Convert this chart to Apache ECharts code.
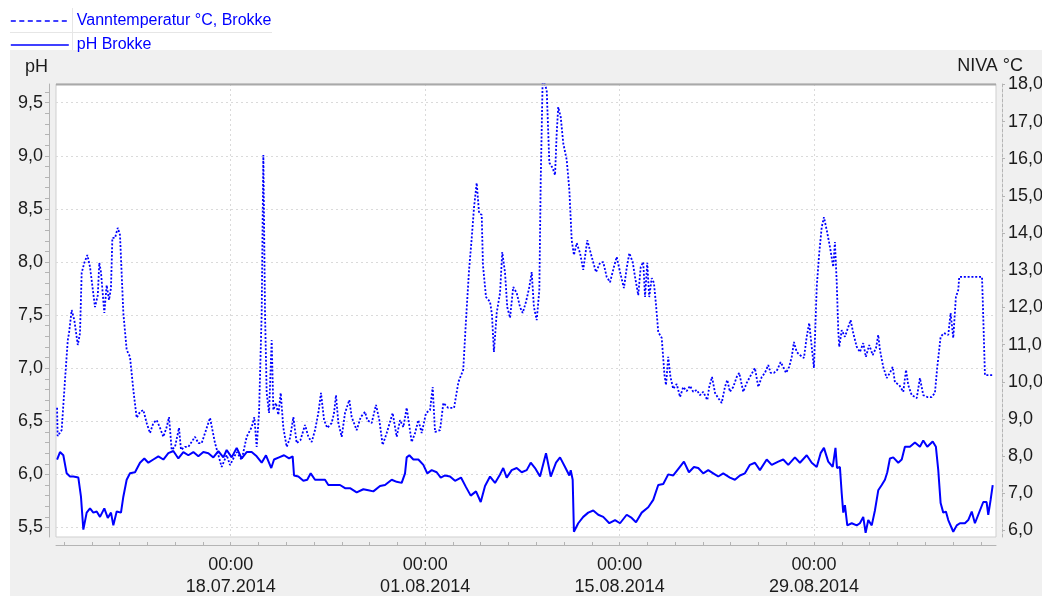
<!DOCTYPE html>
<html>
<head>
<meta charset="utf-8">
<script src="https://cdn.jsdelivr.net/npm/echarts@6/dist/echarts.min.js"></script>
<style>
  html, body { margin: 0; padding: 0; background: #ffffff; overflow: hidden; }
  #panel { position: absolute; left: 10px; top: 50px; width: 1032px; height: 546px; background: #f0f0f0; }
  #chart { position: absolute; left: 0; top: 0; width: 1042px; height: 596px; }
</style>
</head>
<body>
<div id="panel"></div>
<div id="chart"></div>
<script>
// ---- Data (time given as days relative to 18.07.2014 00:00) ----
const tempDays = [
-12.50,-12.46,-12.17,-11.93,-11.73,-11.64,-11.45,-11.26,-11.01,-10.85,
-10.73,-10.54,-10.32,-10.13,-9.77,-9.57,-9.46,-9.34,-9.10,-8.93,
-8.76,-8.62,-8.52,-8.33,-8.13,-7.97,-7.73,-7.49,-7.25,-7.01,
-6.77,-6.53,-6.29,-6.05,-5.81,-5.57,-5.33,-5.09,-4.85,-4.61,
-4.44,-4.25,-4.01,-3.72,-3.58,-3.29,-3.05,-2.57,-2.33,-2.09,
-1.85,-1.49,-1.13,-0.65,-0.29,-0.05,0.43,0.79,1.15,1.51,
1.70,1.87,2.04,2.23,2.35,2.47,2.59,2.76,2.95,3.07,
3.26,3.43,3.60,3.79,4.03,4.27,4.51,4.75,5.02,5.35,
5.59,5.83,6.07,6.31,6.50,6.72,6.95,7.27,7.44,7.58,
7.75,7.99,8.23,8.54,8.71,9.07,9.36,9.67,9.83,10.15,
10.46,10.70,10.94,11.23,11.66,11.95,12.19,12.43,12.67,13.03,
13.27,13.51,13.75,14.06,14.35,14.54,14.71,15.07,15.31,15.66,
16.08,16.39,16.74,16.94,17.16,17.34,17.52,17.71,17.88,18.07,
18.16,18.38,18.67,18.81,18.95,19.15,19.39,19.55,19.75,19.91,
20.11,20.34,20.59,20.83,21.02,21.26,21.50,21.67,21.83,22.03,
22.22,22.32,22.46,22.75,22.94,23.18,23.35,23.47,23.58,23.76,
23.94,24.19,24.38,24.55,24.71,24.91,25.15,25.38,25.67,25.99,
26.30,26.59,26.82,27.07,27.31,27.59,27.79,28.03,28.31,28.51,
28.70,28.94,29.11,29.34,29.52,29.70,29.83,29.99,30.13,30.31,
30.47,30.62,30.78,31.03,31.23,31.34,31.50,31.66,31.86,32.11,
32.35,32.58,32.83,33.07,33.30,33.55,33.79,34.02,34.31,34.45,
34.65,34.87,35.10,35.35,35.58,35.75,35.94,36.18,36.43,36.61,
36.90,37.15,37.38,37.74,37.98,38.23,38.46,38.70,38.87,39.11,
39.35,39.59,39.78,39.98,40.21,40.39,40.55,40.75,40.98,41.27,
41.47,41.65,41.83,41.99,42.19,42.37,42.55,42.71,42.91,43.14,
43.38,43.50,43.63,43.74,43.81,43.99,44.22,44.46,44.63,44.82,
45.07,45.30,45.54,45.73,45.97,46.22,46.46,46.62,46.74,46.98,
47.23,47.46,47.66,47.82,48.13,48.42,48.62,48.78,49.03,49.39,
49.62,49.86,50.15,50.46,50.70,50.87,51.11,51.35,51.66,51.83,
52.02,52.21,52.38,52.45,54.09,54.18,54.30,54.88
];
const tempValues = [
9.30,8.54,8.70,10.05,11.12,11.31,11.93,11.66,10.99,11.31,
12.93,13.20,13.41,13.09,12.01,12.33,13.20,12.95,11.85,12.60,
12.20,12.52,13.87,13.87,14.14,13.95,11.85,10.86,10.67,9.78,
9.03,9.19,9.24,8.89,8.62,8.89,8.97,8.76,8.52,8.78,
9.05,8.17,8.25,8.76,8.17,8.25,8.25,8.52,8.35,8.35,
8.62,9.03,8.35,7.71,8.03,7.76,8.11,7.90,8.52,8.78,
9.05,8.25,9.16,11.85,16.10,11.85,9.70,9.16,11.12,9.24,
9.43,9.11,9.70,8.76,8.25,8.49,9.05,8.35,8.43,8.84,
8.52,8.38,8.70,9.16,9.70,8.97,8.76,8.89,9.16,9.64,
8.89,8.52,9.16,9.51,9.05,8.70,9.05,9.19,8.97,8.89,
9.38,8.97,8.30,8.62,9.16,8.52,8.97,8.78,9.30,8.38,
8.62,8.97,8.62,9.16,9.24,9.86,8.65,8.70,9.43,9.30,
9.30,9.99,10.32,11.66,13.01,13.81,14.70,15.35,14.54,14.49,
13.14,12.28,12.15,11.80,10.80,11.85,12.39,13.49,12.93,12.01,
11.72,12.55,12.39,12.01,11.85,12.15,12.55,12.95,12.01,11.66,
12.47,15.43,18.15,17.85,15.89,15.75,15.56,16.69,17.39,17.12,
16.42,15.97,15.16,13.81,13.41,13.73,13.46,13.01,13.81,13.36,
12.95,13.20,13.22,12.82,12.68,13.09,13.36,12.95,12.52,13.06,
13.46,13.22,12.82,12.33,13.09,13.22,12.28,13.20,12.28,12.79,
12.66,12.07,11.34,11.18,10.18,9.91,10.67,10.13,9.81,9.94,
9.59,9.86,9.75,9.89,9.73,9.78,9.64,9.73,9.51,9.86,
10.13,9.70,9.56,9.43,9.86,10.05,9.73,9.86,10.13,10.24,
9.73,9.97,10.13,10.37,9.86,10.13,10.24,10.45,10.24,10.24,
10.32,10.53,10.40,10.24,10.40,10.67,11.07,10.80,10.72,10.64,
11.21,11.58,10.94,10.37,12.55,13.46,14.16,14.43,14.08,13.63,
13.09,13.76,12.68,11.39,10.94,11.39,11.21,11.47,11.66,11.31,
10.94,10.80,11.04,10.67,10.99,10.72,10.91,11.26,10.86,10.40,
10.10,10.24,10.40,9.99,9.91,9.73,10.32,9.91,9.64,9.56,
10.10,9.64,9.59,9.59,9.70,10.40,11.21,11.31,11.26,11.85,
11.18,12.28,12.47,12.82,12.82,11.74,10.18,10.18
];
const phDays = [
-12.50,-12.29,-12.05,-11.81,-11.57,-11.33,-10.97,-10.78,-10.61,-10.37,
-10.13,-9.89,-9.65,-9.41,-9.10,-8.85,-8.62,-8.45,-8.21,-7.90,
-7.73,-7.49,-7.25,-6.89,-6.53,-6.22,-5.93,-5.57,-5.21,-4.85,
-4.49,-4.13,-3.77,-3.41,-3.05,-2.69,-2.33,-1.97,-1.61,-1.25,
-0.89,-0.53,-0.29,0.07,0.43,0.79,1.15,1.51,1.87,2.23,
2.54,2.92,3.12,3.48,3.84,4.20,4.46,4.56,4.87,5.23,
5.51,5.76,6.07,6.43,6.79,7.03,7.39,7.87,8.23,8.59,
9.07,9.55,9.91,10.27,10.75,11.11,11.59,11.95,12.31,12.55,
12.67,12.86,13.15,13.51,13.87,14.15,14.47,14.83,15.12,15.43,
15.79,16.15,16.58,16.94,17.28,17.66,18.00,18.31,18.67,19.03,
19.39,19.62,19.87,20.23,20.59,20.95,21.31,21.60,21.91,22.27,
22.70,23.04,23.42,23.71,24.07,24.38,24.48,24.62,24.71,25.02,
25.38,25.74,26.10,26.46,26.82,27.26,27.67,28.03,28.51,28.87,
29.18,29.59,30.06,30.42,30.78,31.14,31.50,31.86,32.27,32.63,
32.99,33.35,33.66,34.02,34.38,34.74,35.10,35.46,35.94,36.30,
36.66,37.02,37.38,37.74,38.10,38.59,38.95,39.42,39.78,40.14,
40.62,40.98,41.47,41.83,42.19,42.47,42.71,43.02,43.34,43.54,
43.65,43.86,43.99,44.10,44.22,44.39,44.71,45.07,45.30,45.54,
45.71,45.90,46.15,46.38,46.62,46.87,47.10,47.27,47.46,47.70,
48.06,48.31,48.54,48.90,49.26,49.62,49.86,50.15,50.54,50.77,
50.94,51.11,51.30,51.49,51.66,52.02,52.27,52.50,52.86,53.10,
53.35,53.58,53.82,54.18,54.42,54.54,54.71,54.86
];
const phValues = [
6.14,6.21,6.18,6.01,5.98,5.98,5.97,5.79,5.48,5.64,
5.68,5.64,5.65,5.60,5.68,5.59,5.64,5.52,5.65,5.64,
5.79,5.95,6.01,6.02,6.11,6.15,6.11,6.14,6.17,6.14,
6.20,6.22,6.15,6.21,6.18,6.21,6.17,6.21,6.20,6.16,
6.22,6.16,6.23,6.16,6.25,6.15,6.21,6.21,6.17,6.11,
6.18,6.06,6.14,6.16,6.18,6.15,6.17,5.99,5.98,5.94,
5.95,6.01,5.95,5.95,5.95,5.90,5.90,5.90,5.87,5.87,
5.83,5.86,5.85,5.84,5.89,5.90,5.95,5.93,5.92,6.01,
6.16,6.18,6.14,6.14,6.09,6.01,6.04,6.02,5.97,5.99,
5.98,5.94,5.97,5.88,5.80,5.84,5.74,5.89,5.98,5.92,
6.00,6.06,5.97,6.04,6.06,6.02,6.04,6.11,6.06,5.98,
6.20,5.98,6.11,6.16,6.07,5.99,6.04,5.95,5.46,5.54,
5.60,5.64,5.66,5.62,5.60,5.54,5.57,5.54,5.62,5.59,
5.55,5.64,5.69,5.76,5.90,5.91,6.00,5.99,6.06,6.12,
6.02,6.07,6.06,6.01,6.04,6.01,5.98,6.01,5.97,5.95,
5.99,6.01,6.09,6.11,6.04,6.14,6.09,6.12,6.14,6.09,
6.16,6.11,6.18,6.11,6.07,6.20,6.25,6.12,6.07,6.25,
6.06,6.07,5.82,5.64,5.71,5.52,5.54,5.52,5.54,5.60,
5.45,5.57,5.52,5.66,5.85,5.90,5.95,6.02,6.15,6.16,
6.11,6.14,6.26,6.26,6.30,6.26,6.32,6.26,6.31,6.26,
6.04,5.73,5.64,5.65,5.57,5.46,5.52,5.54,5.54,5.57,
5.65,5.54,5.62,5.74,5.74,5.62,5.76,5.90
];
const dateTickDays = [0, 14, 28, 42];           // labelled dates (00:00)
const minorTickDays = [-12,-10,-8,-6,-4,-2,0,2,4,6,8,10,12,14,16,18,20,22,24,26,28,30,32,34,36,38,40,42,44,46,48,50,52,54];
const phTicks = [5.5, 6.0, 6.5, 7.0, 7.5, 8.0, 8.5, 9.0, 9.5];
const phMinorTicks = [5.5,5.6,5.7,5.8,5.9,6.0,6.1,6.2,6.3,6.4,6.5,6.6,6.7,6.8,6.9,7.0,7.1,7.2,7.3,7.4,7.5,7.6,7.7,7.8,7.9,8.0,8.1,8.2,8.3,8.4,8.5,8.6,8.7,8.8,8.9,9.0,9.1,9.2,9.3,9.4,9.5,9.6];
const tempTicks = [6, 7, 8, 9, 10, 11, 12, 13, 14, 15, 16, 17, 18];
const seriesNames = ['Vanntemperatur °C, Brokke', 'pH Brokke'];

// ---- Build ----
const BASE = Date.UTC(2014, 6, 18);
const pad = n => (n < 10 ? '0' : '') + n;
const commaFmt = v => Number(v).toFixed(1).replace('.', ',');
const dayFmt = v => {
  const t = new Date(BASE + Math.round(v * 24) * 3600000);
  return pad(t.getUTCHours()) + ':' + pad(t.getUTCMinutes()) + '\n' +
         pad(t.getUTCDate()) + '.' + pad(t.getUTCMonth() + 1) + '.' + t.getUTCFullYear();
};
const FONT = 'Liberation Sans, Arial, sans-serif';
const TXT = '#1b1b1b';
const BLUE = '#0000ff';
const AXC = '#b4b4b4';

const tempData = tempDays.map((d, i) => [d, tempValues[i]]);
const phData = phDays.map((d, i) => [d, phValues[i]]);

const xMin = -12.578, xMax = 55.097;
const phMin = 5.4105, phMax = 9.676;
const tMin = 5.825, tMax = 18.01;

const chart = echarts.init(document.getElementById('chart'), null, { renderer: 'canvas' });
chart.setOption({
  animation: false,
  backgroundColor: 'transparent',
  textStyle: { fontFamily: FONT },
  legend: {
    orient: 'vertical', left: 10, top: 13, padding: 0,
    itemWidth: 58, itemHeight: 14, itemGap: 8,
    itemStyle: { color: 'rgba(0,0,0,0)', borderColor: 'rgba(0,0,0,0)', borderWidth: 0, opacity: 0 },
    data: [
      { name: seriesNames[0], lineStyle: { type: [5, 3.5], width: 1.4 } },
      { name: seriesNames[1], lineStyle: { width: 1.6 } }
    ],
    textStyle: { color: BLUE, fontSize: 16, fontFamily: FONT, padding: [0, 0, 0, 3] },
    selectedMode: false
  },
  graphic: [
    { type: 'line', shape: { x1: 72.5, y1: 8, x2: 72.5, y2: 50 }, style: { stroke: '#e6e6e6', lineWidth: 1 } },
    { type: 'line', shape: { x1: 10, y1: 32.5, x2: 272, y2: 32.5 }, style: { stroke: '#e6e6e6', lineWidth: 1 } },
    { type: 'line', shape: { x1: 56, y1: 84.5, x2: 996, y2: 84.5 }, style: { stroke: '#a9a9a9', lineWidth: 2 }, z: 10 },
    { type: 'text', left: 25, top: 58, style: { text: 'pH', font: '18px ' + FONT, fill: TXT } },
    { type: 'text', right: 19, top: 57, style: { text: 'NIVA °C', font: '18px ' + FONT, fill: TXT } }
  ],
  grid: {
    left: 56, right: 46, top: 84, bottom: 59,
    outerBoundsMode: 'none', containLabel: false,
    show: true, backgroundColor: '#ffffff', borderColor: '#cfcfcf', borderWidth: 1
  },
  xAxis: [
    {
      type: 'value', min: xMin, max: xMax, offset: 8,
      axisLine: { show: true, onZero: false, lineStyle: { color: AXC, width: 1 } },
      axisTick: { show: true, length: 3, inside: true, customValues: minorTickDays, lineStyle: { color: AXC } },
      axisLabel: {
        show: true, margin: 9, color: TXT, fontSize: 18, fontFamily: FONT, lineHeight: 22,
        customValues: dateTickDays, formatter: dayFmt, hideOverlap: false
      },
      splitLine: { show: false }
    },
    {
      type: 'value', min: xMin, max: xMax,
      axisLine: { show: false, onZero: false }, axisLabel: { show: false },
      axisTick: { show: false, customValues: dateTickDays },
      splitLine: { show: true, lineStyle: { color: '#dadada', type: [2, 3], width: 1 } }
    }
  ],
  yAxis: [
    {
      type: 'value', position: 'left', min: phMin, max: phMax, offset: 7,
      axisLine: { show: true, onZero: false, lineStyle: { color: AXC } },
      axisTick: { show: true, length: 4, customValues: phMinorTicks, lineStyle: { color: AXC } },
      axisLabel: { customValues: phTicks, formatter: commaFmt, color: TXT, fontSize: 18, fontFamily: FONT, margin: 6 },
      splitLine: { show: false }
    },
    {
      type: 'value', position: 'right', min: tMin, max: tMax, offset: 6,
      axisLine: { show: true, onZero: false, lineStyle: { color: AXC, type: [3, 2] } },
      axisTick: { show: true, length: 3, customValues: tempTicks, lineStyle: { color: AXC } },
      axisLabel: { customValues: tempTicks, formatter: commaFmt, color: TXT, fontSize: 18, fontFamily: FONT, margin: 6 },
      splitLine: { show: false }
    },
    {
      type: 'value', position: 'left', min: phMin, max: phMax,
      axisLine: { show: false, onZero: false }, axisLabel: { show: false },
      axisTick: { show: false, customValues: phTicks },
      splitLine: { show: true, lineStyle: { color: '#dadada', type: [2, 3], width: 1 } }
    }
  ],
  series: [
    {
      name: seriesNames[0], type: 'line', xAxisIndex: 0, yAxisIndex: 1,
      data: tempData, showSymbol: false, symbol: 'none', color: BLUE,
      lineStyle: { color: BLUE, width: 1.8, type: [2, 1.8] }, z: 3
    },
    {
      name: seriesNames[1], type: 'line', xAxisIndex: 0, yAxisIndex: 0,
      data: phData, showSymbol: false, symbol: 'none', color: BLUE,
      lineStyle: { color: BLUE, width: 2 }, z: 4
    }
  ]
});
</script>
</body>
</html>
